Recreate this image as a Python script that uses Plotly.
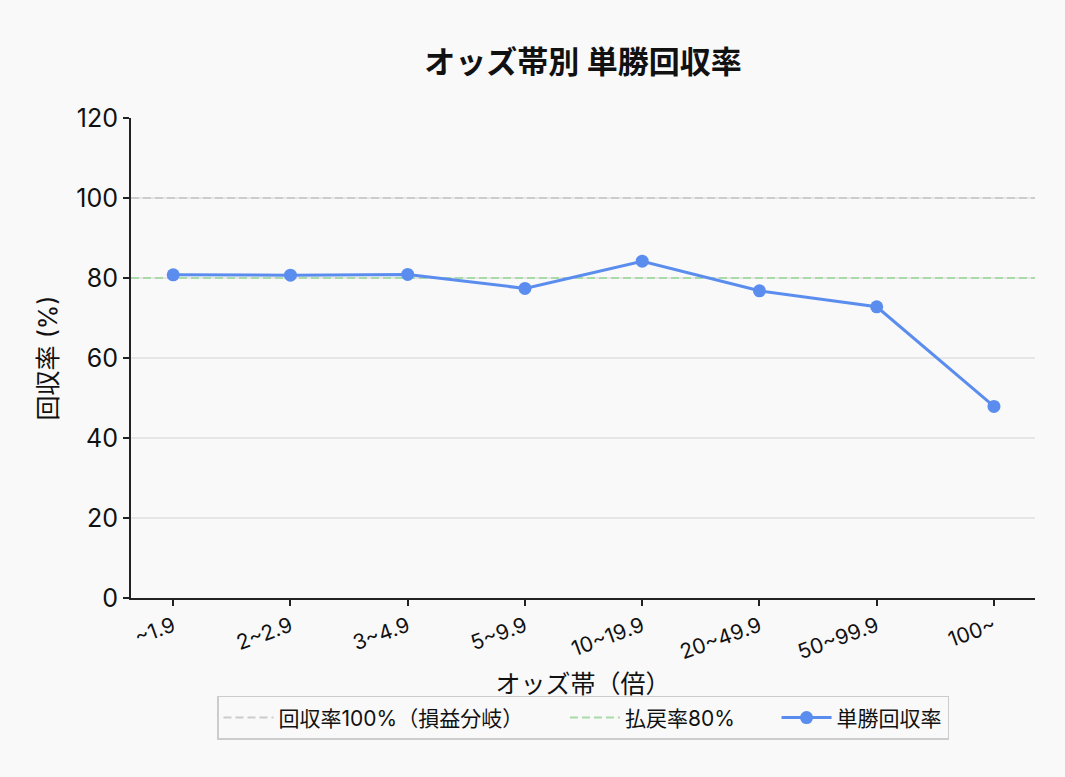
import plotly.graph_objects as go

categories = ["~1.9", "2~2.9", "3~4.9", "5~9.9", "10~19.9", "20~49.9", "50~99.9", "100~"]
recovery = [80.8, 80.7, 80.9, 77.4, 84.2, 76.8, 72.8, 47.9]
breakeven = 100
payout = 80
y_ticks = [0, 20, 40, 60, 80, 100, 120]

FONT = "Inter, Noto Sans CJK JP"
PAD = "\u2003\u2002\u2005"

fig = go.Figure()
# Reference lines span the full plot width on a hidden [0, 1] helper axis.
fig.add_trace(go.Scatter(
    x=[0, 1], y=[breakeven, breakeven], mode="lines", xaxis="x", yaxis="y",
    name="回収率100%（損益分岐）" + PAD,
    line=dict(color="#cccccc", width=2, dash="8px,4px"),
))
fig.add_trace(go.Scatter(
    x=[0, 1], y=[payout, payout], mode="lines", xaxis="x", yaxis="y",
    name="払戻率80%" + PAD,
    line=dict(color="#a8dba8", width=2, dash="8px,4px"),
))
fig.add_trace(go.Scatter(
    x=categories, y=recovery, mode="lines+markers", xaxis="x2", yaxis="y",
    name="単勝回収率",
    line=dict(color="#5b8def", width=3),
    marker=dict(color="#5b8def", size=13),
))

fig.update_layout(
    width=1065, height=777,
    paper_bgcolor="#f9f9f9", plot_bgcolor="#f9f9f9",
    font=dict(family=FONT, color="#111111"),
    margin=dict(l=131, r=30, t=118, b=179),
    title=dict(text="<b>オッズ帯別 単勝回収率</b>", x=0.5, xanchor="center", xref="paper",
               y=1 - 62 / 777, yanchor="middle", font=dict(size=31, color="#111111")),
    xaxis=dict(range=[0, 1], visible=False, showgrid=False, zeroline=False),
    xaxis2=dict(
        overlaying="x", side="bottom", anchor="y",
        type="category", range=[-0.36, 7.35], showgrid=False,
        showline=True, linecolor="#222222", linewidth=2,
        ticks="outside", ticklen=6, tickcolor="#222222", tickwidth=2,
        tickangle=-20, tickfont=dict(size=21),
        title=dict(text="オッズ帯（倍）", font=dict(size=25), standoff=12),
    ),
    yaxis=dict(
        range=[0, 120], tickvals=y_ticks,
        showgrid=True, gridcolor="#e6e6e6", gridwidth=1.5, zeroline=False,
        showline=True, linecolor="#222222", linewidth=2,
        ticks="outside", ticklen=6, tickcolor="#222222", tickwidth=2,
        tickfont=dict(size=25),
        title=dict(text="回収率 (%)", font=dict(size=25), standoff=12),
    ),
    legend=dict(
        orientation="h", x=0.5, xanchor="center", y=-0.204, yanchor="top",
        bgcolor="#f9f9f9", bordercolor="#cccccc", borderwidth=1.5,
        font=dict(size=21), itemwidth=50,
    ),
    showlegend=True,
)

fig.write_html("out.html")
